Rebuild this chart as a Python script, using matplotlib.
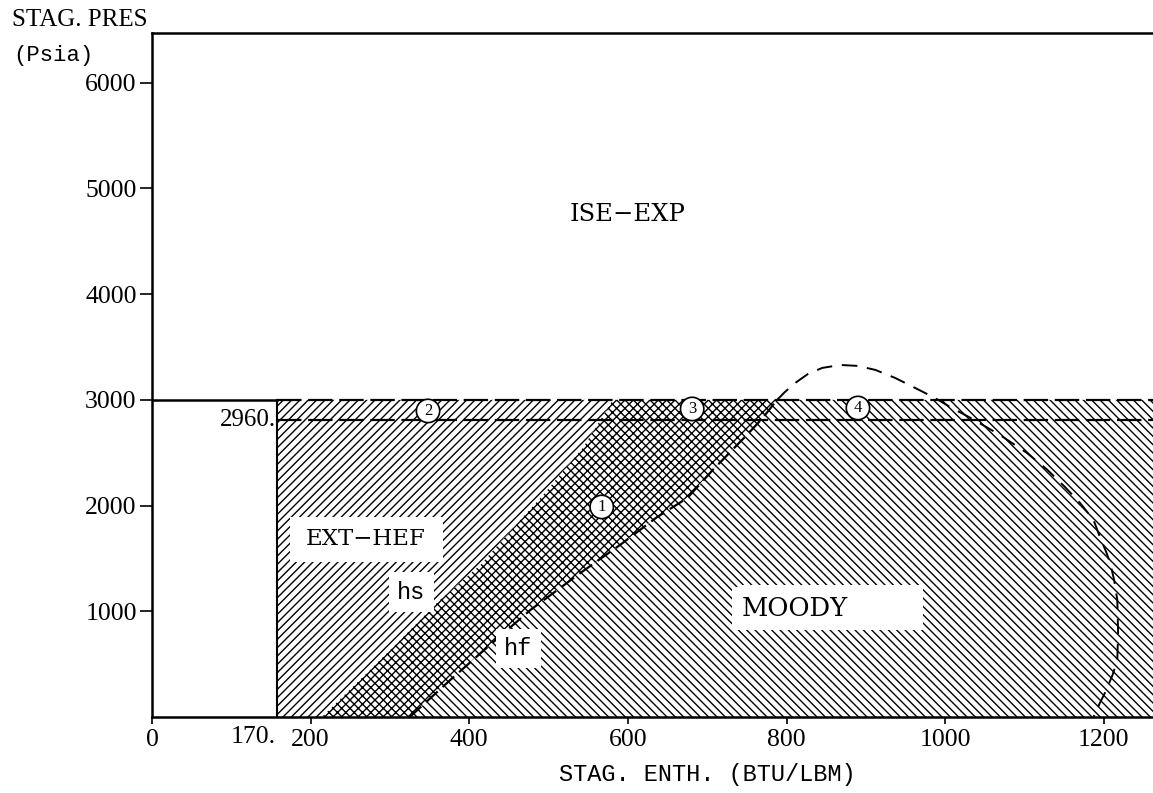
import matplotlib
matplotlib.use("Agg")
import matplotlib.pyplot as plt
from matplotlib.patches import Polygon, Rectangle
import matplotlib.transforms as mtransforms

# ---------------- data ----------------
x_ticks = [0, 200, 400, 600, 800, 1000, 1200]
x_ticklabels = ["0", "200", "400", "600", "800", "1000", "1200"]
y_ticks = [1000, 2000, 3000, 4000, 5000, 6000]
y_ticklabels = ["1000", "2000", "3000", "4000", "5000", "6000"]

h_ext_min = 158          # drawn position of the "170." boundary
p_top = 3000             # upper limit of the hatched regions
p_2960 = 2810            # drawn height of the "2960." line
h_max = 1262             # right end of axis
p_max = 6470             # top of axis

# hs boundary (left edge of cross-hatched band)
hs_h = [214, 262, 313, 363, 414, 445, 493, 544, 581]
hs_p = [0, 350, 728, 1107, 1438, 1703, 2100, 2554, 3000]
# hf boundary (right edge of cross-hatched band, dashed line)
hf_h = [325, 376, 426, 477, 540, 590, 637, 675, 707, 750, 770, 788]
hf_p = [0, 350, 681, 1012, 1362, 1627, 1892, 2072, 2337, 2668, 2829, 3000]
# dashed dome curve
dome_h = [788, 798, 811, 827, 845, 868, 890, 912, 937, 962, 987, 1006, 1032,
          1069, 1103, 1129, 1151, 1170, 1187, 1195, 1203, 1208, 1213, 1217,
          1218, 1217, 1211, 1202, 1195, 1187]
dome_p = [2999, 3075, 3160, 3245, 3302, 3330, 3321, 3283, 3207, 3113, 3018, 2933,
          2829, 2668, 2498, 2337, 2176, 2025, 1864, 1703, 1561, 1457, 1296, 1107,
          795, 539, 397, 237, 132, 0]

# region labels
labels = ["ISE\u2212EXP", "EXT\u2212HEF", "hs", "hf", "MOODY"]
label_h = [599, 270, 327, 462, 810]
label_p = [4750, 1680, 1180, 650, 1030]
# circled numbers
circ_txt = ["1", "2", "3", "4"]
circ_h = [567, 348, 681, 890]
circ_p = [1987, 2895, 2914, 2923]

# ---------------- figure ----------------
plt.rcParams['hatch.linewidth'] = 1.0
fig = plt.figure(figsize=(11.53, 7.93), dpi=100)
ax = fig.add_axes([152 / 1153, 76 / 793, 1 - 152 / 1153, (717 - 33) / 793])
ax.set_xlim(0, h_max)
ax.set_ylim(0, p_max)

serif = "Liberation Serif"
dserif = "DejaVu Serif"
mono = "Liberation Mono"

# EXT-HEF region
ext_poly = [(h_ext_min, 0)] + list(zip(hs_h, hs_p)) + [(h_ext_min, p_top)]
ax.add_patch(Polygon(ext_poly, closed=True, facecolor="white", edgecolor="black",
                     linewidth=0, hatch="////", zorder=1))
# cross-hatched band
cross_poly = list(zip(hs_h, hs_p)) + list(zip(hf_h, hf_p))[::-1]
ax.add_patch(Polygon(cross_poly, closed=True, facecolor="white", edgecolor="black",
                     linewidth=0, hatch="xxxx", zorder=1))
# MOODY region
moody_poly = list(zip(hf_h, hf_p)) + [(h_max, p_top), (h_max, 0)]
ax.add_patch(Polygon(moody_poly, closed=True, facecolor="white", edgecolor="black",
                     linewidth=0, hatch="\\\\\\\\", zorder=1))

# boundary lines
ax.plot([0, h_ext_min], [p_top, p_top], color="black", lw=1.8, zorder=3)
ax.plot([h_ext_min, h_ext_min], [0, p_top], color="black", lw=1.5, zorder=3)
ax.plot([h_ext_min, h_max], [p_top, p_top], color="black", lw=1.6,
        dashes=(11, 3), zorder=3)
ax.plot([h_ext_min, h_max], [p_2960, p_2960], color="black", lw=1.6,
        dashes=(11, 3), zorder=3)
ax.plot(hf_h, hf_p, color="black", lw=1.6, dashes=(7, 3), zorder=3)
ax.plot(dome_h, dome_p, color="black", lw=1.4, dashes=(8, 5), zorder=3)

# white label backgrounds
ax.add_patch(Rectangle((741, 823), 231, 426, facecolor="white", edgecolor="none", zorder=4))
ax.add_patch(Rectangle((174, 1466), 193, 426, facecolor="white", edgecolor="none", zorder=4))

# labels
lab_font = [dserif, dserif, mono, mono, dserif]
fs_lab = [17.5, 16.5, 17, 17, 18.5]
for t, h, p, fs, fam in zip(labels, label_h, label_p, fs_lab, lab_font):
    ax.text(h, p, t, fontsize=fs, family=fam, ha="center", va="center", zorder=5,
            bbox=dict(boxstyle="square,pad=0.35", facecolor="white", edgecolor="none"))
for t, h, p in zip(circ_txt, circ_h, circ_p):
    ax.text(h, p, t, fontsize=12, family=serif, ha="center", va="center", zorder=5,
            bbox=dict(boxstyle="circle,pad=0.22", facecolor="white", edgecolor="black", lw=1.2))

ax.text(h_ext_min - 2, p_2960, "2960.", fontsize=18, family=serif, ha="right",
        va="center", zorder=5)
trans = mtransforms.blended_transform_factory(ax.transData, ax.transAxes)
ax.text(h_ext_min - 2, -0.013, "170.", fontsize=18.5, family=serif, ha="right",
        va="top", transform=trans)

# axes styling
ax.spines["right"].set_visible(False)
for s in ["left", "bottom", "top"]:
    ax.spines[s].set_linewidth(1.8)
ax.set_xticks(x_ticks)
ax.set_xticklabels(x_ticklabels, fontsize=18.5, family=serif)
ax.set_yticks(y_ticks)
ax.set_yticklabels(y_ticklabels, fontsize=18.5, family=serif)
ax.tick_params(axis="x", direction="out", length=5, width=1.2, pad=4)
ax.tick_params(axis="y", direction="out", length=9, width=1.2, pad=2)

fig.text(12 / 1153, (793 - 20) / 793, "STAG. PRES", fontsize=18, family=serif,
         ha="left", va="center")
fig.text(13 / 1153, (793 - 55) / 793, "(Psia)", fontsize=16, family=mono,
         ha="left", va="center")
fig.text(707 / 1153, (793 - 775) / 793, "STAG. ENTH. (BTU/LBM)", fontsize=17,
         family=mono, ha="center", va="center")

fig.savefig("out.png", dpi=100)
